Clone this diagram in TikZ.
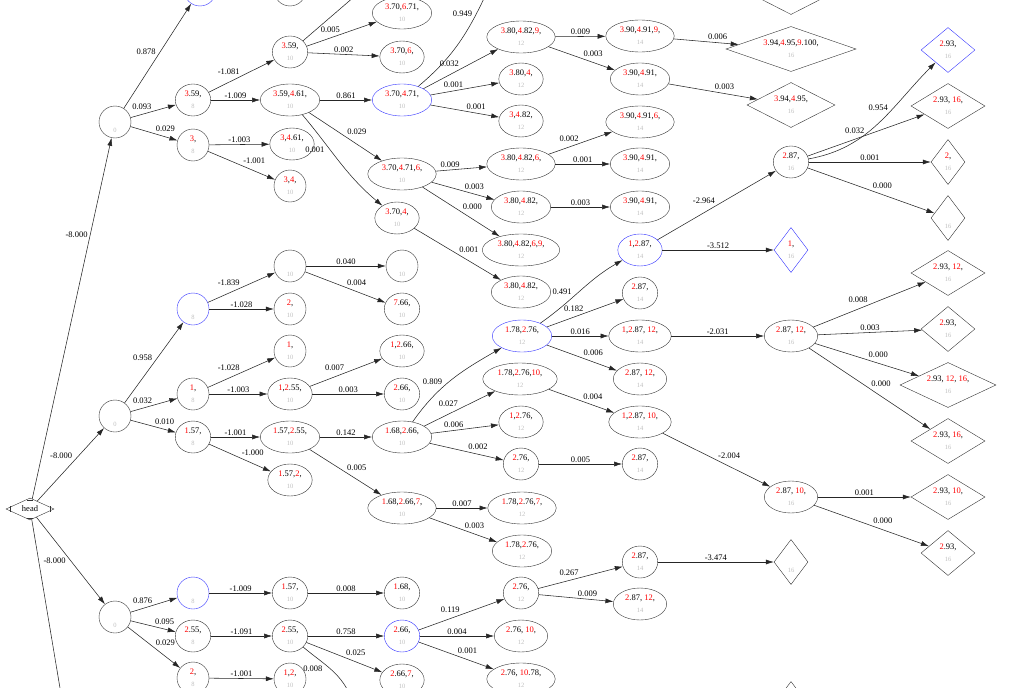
\documentclass[tikz,border=0pt]{standalone}
\usepackage{fontspec}
\setmainfont{Liberation Serif}
\usetikzlibrary{shapes.geometric,arrows.meta}
\newcommand{\rd}[1]{\textcolor{red}{#1}}
\newcommand{\sub}[1]{{\fontsize{6.5}{7}\selectfont\textcolor{black!25}{#1}}}
\tikzset{
  st/.style={draw=black!80,ellipse,inner xsep=4pt,inner ysep=0pt,minimum height=32pt,minimum width=32pt,align=center,font=\fontsize{8.5}{12}\selectfont},
  best/.style={st,draw=blue!80},
  leaf/.style={draw=black!80,diamond,aspect=#1,inner sep=0pt,minimum height=45pt,align=center,font=\fontsize{8.5}{12}\selectfont},
  edge/.style={draw=black!85,line width=0.55pt,-{Latex[length=8pt,width=5pt]}},
  lbl/.style={auto,inner sep=1.5pt,font=\fontsize{8.5}{9}\selectfont}
}
\begin{document}
\begin{tikzpicture}[x=1pt,y=-1pt]
\useasboundingbox (0,0) rectangle (1026,688);
\clip (0,0) rectangle (1026,688);
% root
\node[draw=black!80,diamond,aspect=2.2,inner sep=1pt,minimum width=48pt,minimum height=22pt,font=\fontsize{8.5}{9}\selectfont] (head) at (30,509) {head};
\draw[black!80] ([shift={(4,-3)}]head.west) -- ([shift={(4,3)}]head.west)
  ([shift={(-4,-3)}]head.east) -- ([shift={(-4,3)}]head.east)
  ([shift={(-3,2)}]head.north) -- ([shift={(3,2)}]head.north)
  ([shift={(-3,-2)}]head.south) -- ([shift={(3,-2)}]head.south);
% upper branch
\node[st] (r1) at (115,122) {\strut\\\sub{0}};
\node[best] (a1) at (200,-10) {\strut\\\sub{8}};
\node[st] (a2) at (193,100) {\rd{3}.59,\\\sub{8}};
\node[st] (a3) at (193,145) {\rd{3},\\\sub{8}};
\node[st] (b0) at (290,-10) {\strut\\\sub{10}};
\node[st] (b1) at (290,52) {\rd{3}.59,\\\sub{10}};
\node[st] (b2) at (290,100) {\rd{3}.59,\rd{4}.61,\\\sub{10}};
\node[st] (b3) at (292,144) {\rd{3},\rd{4}.61,\\\sub{10}};
\node[st] (b4) at (290,186) {\rd{3},\rd{4},\\\sub{10}};
\node[st] (c1) at (402,13) {\rd{3}.70,\rd{6}.71,\\\sub{10}};
\node[st] (c2) at (402,57) {\rd{3}.70,\rd{6},\\\sub{10}};
\node[best] (c3) at (402,100) {\rd{3}.70,\rd{4}.71,\\\sub{10}};
\node[st] (c4) at (402,174) {\rd{3}.70,\rd{4}.71,\rd{6},\\\sub{10}};
\node[st] (c5) at (397,218) {\rd{3}.70,\rd{4},\\\sub{10}};
\node[st] (d1) at (521,37) {\rd{3}.80,\rd{4}.82,\rd{9},\\\sub{12}};
\node[st] (d2) at (521,79) {\rd{3}.80,\rd{4},\\\sub{12}};
\node[st] (d3) at (521,121) {\rd{3},\rd{4}.82,\\\sub{12}};
\node[st] (d4) at (521,164) {\rd{3}.80,\rd{4}.82,\rd{6},\\\sub{12}};
\node[st] (d5) at (521,207) {\rd{3}.80,\rd{4}.82,\\\sub{12}};
\node[st] (d6) at (521,250) {\rd{3}.80,\rd{4}.82,\rd{6},\rd{9},\\\sub{12}};
\node[st] (d7) at (521,292) {\rd{3}.80,\rd{4}.82,\\\sub{12}};
\node[st] (e1) at (640,36) {\rd{3}.90,\rd{4}.91,\rd{9},\\\sub{14}};
\node[st] (e2) at (640,79) {\rd{3}.90,\rd{4}.91,\\\sub{14}};
\node[st] (e3) at (640,122) {\rd{3}.90,\rd{4}.91,\rd{6},\\\sub{14}};
\node[st] (e4) at (640,164) {\rd{3}.90,\rd{4}.91,\\\sub{14}};
\node[st] (e5) at (640,207) {\rd{3}.90,\rd{4}.91,\\\sub{14}};
\node[leaf=2,minimum width=88pt] (f0) at (791,-8) {};
\node[leaf=2.9,minimum width=130pt] (f1) at (791,49) {\rd{3}.94,\rd{4}.95,\rd{9}.100,\\\sub{16}};
\node[leaf=2,minimum width=88pt] (f2) at (791,105) {\rd{3}.94,\rd{4}.95,\\\sub{16}};
% middle branch
\node[st] (r2) at (115,416) {\strut\\\sub{0}};
\node[best] (j1) at (193,309) {\strut\\\sub{8}};
\node[st] (j2) at (193,394) {\rd{1},\\\sub{8}};
\node[st] (j3) at (193,437) {\rd{1}.57,\\\sub{8}};
\node[st] (k1) at (290,266) {\strut\\\sub{10}};
\node[st] (k2) at (290,309) {\rd{2},\\\sub{10}};
\node[st] (k3) at (290,351) {\rd{1},\\\sub{10}};
\node[st] (k4) at (290,394) {\rd{1},\rd{2}.55,\\\sub{10}};
\node[st] (k5) at (290,437) {\rd{1}.57,\rd{2}.55,\\\sub{10}};
\node[st] (k6) at (290,480) {\rd{1}.57,\rd{2},\\\sub{10}};
\node[st] (l1) at (402,266) {\strut\\\sub{10}};
\node[st] (l2) at (402,309) {\rd{7}.66,\\\sub{10}};
\node[st] (l3) at (402,351) {\rd{1},\rd{2}.66,\\\sub{10}};
\node[st] (l4) at (402,394) {\rd{2}.66,\\\sub{10}};
\node[st] (l5) at (402,437) {\rd{1}.68,\rd{2}.66,\\\sub{10}};
\node[st] (l6) at (402,508) {\rd{1}.68,\rd{2}.66,\rd{7},\\\sub{10}};
\node[best] (i1) at (522,336) {\rd{1}.78,\rd{2}.76,\\\sub{12}};
\node[st] (i2) at (520,379) {\rd{1}.78,\rd{2}.76,\rd{10},\\\sub{12}};
\node[st] (i3) at (521,422) {\rd{1},\rd{2}.76,\\\sub{12}};
\node[st] (i4) at (521,464) {\rd{2}.76,\\\sub{12}};
\node[st] (i5) at (522,508) {\rd{1}.78,\rd{2}.76,\rd{7},\\\sub{12}};
\node[st] (i6) at (522,551) {\rd{1}.78,\rd{2}.76,\\\sub{12}};
\node[best] (h1) at (640,250) {\rd{1},\rd{2}.87,\\\sub{14}};
\node[st] (h2) at (640,293) {\rd{2}.87,\\\sub{14}};
\node[st] (h3) at (640,336) {\rd{1},\rd{2}.87, \rd{12},\\\sub{14}};
\node[st] (h4) at (640,379) {\rd{2}.87, \rd{12},\\\sub{14}};
\node[st] (h5) at (640,422) {\rd{1},\rd{2}.87, \rd{10},\\\sub{14}};
\node[st] (h6) at (640,464) {\rd{2}.87,\\\sub{14}};
\node[st] (g1) at (791,162) {\rd{2}.87,\\\sub{16}};
\node[leaf=0.75,draw=blue!80,minimum width=34pt] (f3) at (791,250) {\rd{1},\\\sub{16}};
\node[st] (g2) at (791,336) {\rd{2}.87, \rd{12},\\\sub{16}};
\node[st] (g3) at (791,497) {\rd{2}.87, \rd{10},\\\sub{16}};
\node[leaf=1.2,draw=blue!80,minimum width=54pt] (t1) at (948,50) {\rd{2}.93,\\\sub{16}};
\node[leaf=1.65,minimum width=74pt] (t2) at (948,106) {\rd{2}.93, \rd{16},\\\sub{16}};
\node[leaf=0.75,minimum width=34pt] (t3) at (948,162) {\rd{2},\\\sub{16}};
\node[leaf=0.75,minimum width=34pt] (t4) at (948,218) {\strut\\\sub{16}};
\node[leaf=1.65,minimum width=74pt] (t5) at (948,273) {\rd{2}.93, \rd{12},\\\sub{16}};
\node[leaf=1.2,minimum width=54pt] (t6) at (948,329) {\rd{2}.93,\\\sub{16}};
\node[leaf=2.1,minimum width=96pt] (t7) at (948,385) {\rd{2}.93, \rd{12}, \rd{16},\\\sub{16}};
\node[leaf=1.65,minimum width=74pt] (t8) at (948,441) {\rd{2}.93, \rd{16},\\\sub{16}};
\node[leaf=1.65,minimum width=74pt] (t9) at (948,497) {\rd{2}.93, \rd{10},\\\sub{16}};
\node[leaf=1.2,minimum width=54pt] (t10) at (948,553) {\rd{2}.93,\\\sub{16}};
% lower branch
\node[st] (r3) at (115,617) {\strut\\\sub{0}};
\node[best] (m1) at (193,593) {\strut\\\sub{8}};
\node[st] (m2) at (193,636) {\rd{2}.55,\\\sub{8}};
\node[st] (m3) at (193,678) {\rd{2},\\\sub{8}};
\node[st] (n1) at (290,593) {\rd{1}.57,\\\sub{10}};
\node[st] (n2) at (290,636) {\rd{2}.55,\\\sub{10}};
\node[st] (n3) at (290,679) {\rd{1},\rd{2},\\\sub{10}};
\node[st] (o1) at (402,593) {\rd{1}.68,\\\sub{10}};
\node[best] (o2) at (402,636) {\rd{2}.66,\\\sub{10}};
\node[st] (o3) at (402,680) {\rd{2}.66,\rd{7},\\\sub{10}};
\node[st] (p1) at (521,593) {\rd{2}.76,\\\sub{12}};
\node[st] (p2) at (521,636) {\rd{2}.76, \rd{10},\\\sub{12}};
\node[st] (p3) at (521,679) {\rd{2}.76, \rd{10}.78,\\\sub{12}};
\node[st] (q1) at (640,562) {\rd{2}.87,\\\sub{14}};
\node[st] (q2) at (640,604) {\rd{2}.87, \rd{12},\\\sub{14}};
\node[leaf=0.75,minimum width=34pt] (qd) at (791,562) {\strut\\\sub{16}};
\node[leaf=0.75,minimum width=34pt] (qb) at (791,704) {};
\coordinate (hb) at (62,700);
\coordinate (bt) at (362,-10);
\coordinate (ct) at (488,-10);
\coordinate (nb) at (352,700);
% connectors
\draw[edge] (head) -- node[lbl,pos=0.72]{-8.000} (r1);
\draw[edge] (head) -- node[lbl,pos=0.55]{-8.000} (r2);
\draw[edge] (head) -- node[lbl,swap,pos=0.45]{-8.000} (r3);
\draw[edge,-] (head) -- (hb);
\draw[edge,-] (b1) -- (bt);
\draw[edge,-] (c3) to[out=40,in=-115] node[lbl,pos=0.75]{0.949} (ct);
\draw[edge] (b2) to[out=-50,in=140] node[lbl,swap,pos=0.3]{0.001} (c5);
\draw[edge] (l5) to[out=55,in=-150] node[lbl,pos=0.4]{0.809} (i1);
\draw[edge] (i1) to[out=35,in=-150] node[lbl,pos=0.4]{0.491} (h1);
\draw[edge] (g1) to[out=10,in=-135] node[lbl,pos=0.6]{0.954} (t1);
\draw[edge,-] (n2) to[out=-40,in=110] node[lbl,swap,pos=0.35]{0.008} (nb);
\foreach \a/\b/\w in {r1/a1/0.878,r1/a2/0.093,r1/a3/0.029,a2/b1/-1.081,a2/b2/-1.009,
  a3/b3/-1.003,a3/b4/-1.001,b1/c1/0.005,b1/c2/0.002,b2/c3/0.861,b2/c4/0.029,
  c3/d1/0.032,c3/d2/0.001,c3/d3/0.001,c4/d4/0.009,c4/d5/0.003,c4/d6/0.000,c5/d7/0.001,
  d1/e1/0.009,d1/e2/0.003,e1/f1/0.006,e2/f2/0.003,d4/e3/0.002,d4/e4/0.001,d5/e5/0.003,
  h1/g1/-2.964,h1/f3/-3.512,g1/t2/0.032,g1/t3/0.001,g1/t4/0.000,
  r2/j1/0.958,r2/j2/0.032,r2/j3/0.010,j1/k1/-1.839,j1/k2/-1.028,j2/k3/-1.028,
  j2/k4/-1.003,j3/k5/-1.001,j3/k6/-1.000,k1/l1/0.040,k1/l2/0.004,k4/l3/0.007,
  k4/l4/0.003,k5/l5/0.142,k5/l6/0.005,l5/i2/0.027,l5/i3/0.006,l5/i4/0.002,
  l6/i5/0.007,l6/i6/0.003,i1/h2/0.182,i1/h3/0.016,i1/h4/0.006,i2/h5/0.004,
  i4/h6/0.005,h3/g2/-2.031,h5/g3/-2.004,g2/t5/0.008,g2/t6/0.003,g2/t7/0.000,
  g2/t8/0.000,g3/t9/0.001,g3/t10/0.000,r3/m1/0.876,r3/m2/0.095,r3/m3/0.029,
  m1/n1/-1.009,m2/n2/-1.091,m3/n3/-1.001,n1/o1/0.008,n2/o2/0.758,n2/o3/0.025,
  o2/p1/0.119,o2/p2/0.004,o2/p3/0.001,p1/q1/0.267,p1/q2/0.009,q1/qd/-3.474}
  \draw[edge] (\a) -- node[lbl]{\w} (\b);
\end{tikzpicture}
\end{document}
